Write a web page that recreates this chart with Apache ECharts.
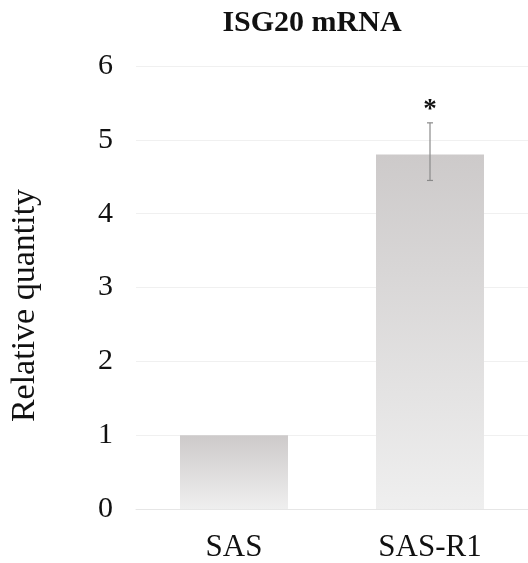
<!DOCTYPE html>
<html>
<head>
<meta charset="utf-8">
<script src="https://cdn.jsdelivr.net/npm/echarts@6/dist/echarts.min.js"></script>
<style>html,body{margin:0;padding:0;background:#fff;}#c{width:528px;height:563px;}</style>
</head>
<body>
<div id="c"></div>
<script>
const categories = ['SAS', 'SAS-R1'];
const values = [1.0, 4.8];
const errLow = [null, 4.45];
const errHigh = [null, 5.23];
const sigMarks = ['', '*'];
const yTicks = [0, 1, 2, 3, 4, 5, 6];

const chart = echarts.init(document.getElementById('c'));
const serif = '"Liberation Serif", "DejaVu Serif", serif';
chart.setOption({
  animation: false,
  title: {
    text: 'ISG20 mRNA', left: 307, top: 3, textAlign: 'center',
    textStyle: { fontFamily: serif, fontWeight: 'bold', fontSize: 30, color: '#111' }
  },
  grid: { left: 136, width: 394, top: 66, bottom: 50 },
  xAxis: {
    type: 'category', data: categories,
    axisLine: { lineStyle: { color: '#e6e6e6' } },
    axisTick: { show: false },
    axisLabel: { fontFamily: serif, fontSize: 31, color: '#111', margin: 23 }
  },
  yAxis: {
    type: 'value', min: yTicks[0], max: yTicks[yTicks.length - 1], interval: 1,
    name: 'Relative quantity', nameLocation: 'middle', nameGap: 94,
    nameTextStyle: { fontFamily: serif, fontSize: 34, color: '#111', padding: [0, 36, 0, 0] },
    axisLine: { show: false }, axisTick: { show: false },
    axisLabel: { fontFamily: serif, fontSize: 30, color: '#111', margin: 23, padding: [6, 0, 0, 0] },
    splitLine: { lineStyle: { color: '#f0f0f0' } }
  },
  series: [
    {
      type: 'bar', data: values, barWidth: 108,
      itemStyle: {
        color: new echarts.graphic.LinearGradient(0, 0, 0, 1, [
          { offset: 0, color: '#cdcaca' },
          { offset: 1, color: '#efefef' }
        ])
      }
    },
    {
      type: 'custom',
      data: categories.map((c, i) => [i, errLow[i], errHigh[i], values[i]]),
      renderItem: function (params, api) {
        const i = api.value(0);
        const children = [];
        const lo = api.value(1), hi = api.value(2);
        let topY = api.coord([i, api.value(3)])[1];
        if (lo !== null && !isNaN(lo) && hi !== null && !isNaN(hi)) {
          const pLo = api.coord([i, lo]);
          const pHi = api.coord([i, hi]);
          topY = pHi[1];
          const st = { stroke: '#8a8a8a', lineWidth: 1.2 };
          children.push({ type: 'line', shape: { x1: pLo[0], y1: pLo[1], x2: pHi[0], y2: pHi[1] }, style: st });
          children.push({ type: 'line', shape: { x1: pLo[0] - 3, y1: pLo[1], x2: pLo[0] + 3, y2: pLo[1] }, style: st });
          children.push({ type: 'line', shape: { x1: pHi[0] - 3, y1: pHi[1], x2: pHi[0] + 3, y2: pHi[1] }, style: st });
        }
        const mark = sigMarks[i];
        if (mark) {
          const x = api.coord([i, 0])[0];
          children.push({ type: 'text', x: x, y: topY - 13,
            style: { text: mark, fontFamily: serif, fontWeight: 'bold', fontSize: 27, fill: '#111', align: 'center', verticalAlign: 'middle' } });
        }
        return { type: 'group', children: children };
      },
      z: 5
    }
  ]
});
</script>
</body>
</html>
